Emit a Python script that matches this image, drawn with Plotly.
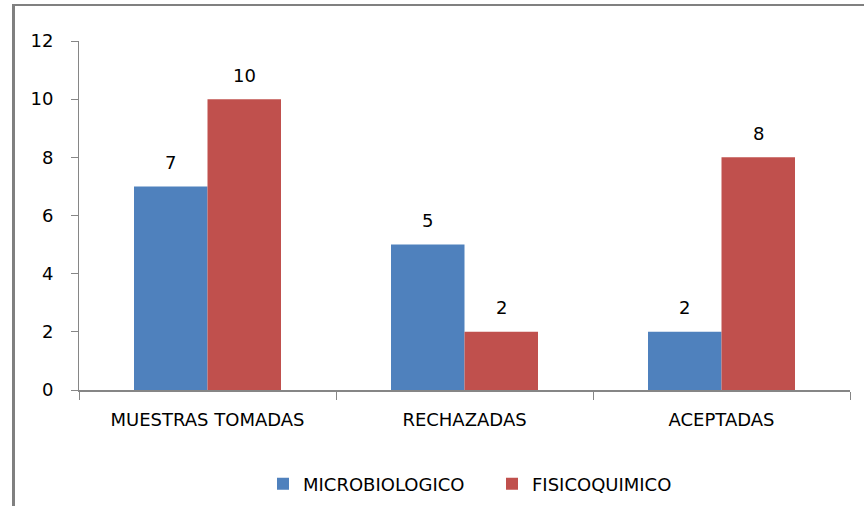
import plotly.graph_objects as go

categories = ["MUESTRAS TOMADAS", "RECHAZADAS", "ACEPTADAS"]
microbiologico = [7, 5, 2]
fisicoquimico = [10, 2, 8]
y_ticks = [0, 2, 4, 6, 8, 10, 12]

BLUE = "#4F81BD"
RED = "#C0504D"
AXIS = "#868686"
FONT = "DejaVu Sans"
FS = 18

fig = go.Figure()
fig.add_trace(go.Bar(name="MICROBIOLOGICO", x=categories, y=microbiologico,
                     marker=dict(color=BLUE, line=dict(width=0))))
fig.add_trace(go.Bar(name="FISICOQUIMICO", x=categories, y=fisicoquimico,
                     marker=dict(color=RED, line=dict(width=0))))

# value labels above each bar
L, R = 79, 850
cat_w = (R - L) / len(categories)
bargap = 0.428
bar_w = cat_w * (1 - bargap) / 2
for series, sign in ((microbiologico, -1), (fisicoquimico, 1)):
    for c, v in zip(categories, series):
        fig.add_annotation(x=c, y=v, text=str(v), showarrow=False,
                           xshift=sign * bar_w / 2, yshift=24,
                           font=dict(family=FONT, size=FS, color="#000000"))

W, H = 864, 506
T, B = 41, 390


def px_x(p):
    return (p - L) / (R - L)


def px_y(p):
    return (B - p) / (B - T)


# outer chart frame (left and top edges)
fig.add_shape(type="line", xref="paper", yref="paper",
              x0=px_x(13.5), x1=px_x(13.5), y0=px_y(5), y1=px_y(510),
              line=dict(color="#808080", width=3))
fig.add_shape(type="line", xref="paper", yref="paper",
              x0=px_x(12), x1=px_x(870), y0=px_y(5), y1=px_y(5),
              line=dict(color="#808080", width=2))

fig.update_layout(
    width=W, height=H,
    margin=dict(l=L, r=W - R, t=T, b=H - B, autoexpand=False),
    paper_bgcolor="white", plot_bgcolor="white",
    barmode="group", bargap=bargap, bargroupgap=0,
    font=dict(family=FONT, size=FS, color="#000000"),
    showlegend=True,
    legend=dict(orientation="h", x=px_x(263), xanchor="left", y=px_y(484),
                yanchor="middle", font=dict(family=FONT, size=FS),
                itemwidth=30, entrywidth=184, traceorder="normal"),
    xaxis=dict(showline=True, linecolor=AXIS, linewidth=2,
               ticks="outside", ticklen=8, tickcolor=AXIS, tickwidth=1,
               tickson="boundaries", showgrid=False, ticklabelstandoff=12,
               tickfont=dict(family=FONT, size=FS)),
    yaxis=dict(range=[0, 12], tickvals=y_ticks, showline=True, linecolor=AXIS,
               linewidth=1, ticks="outside", ticklen=7, tickcolor=AXIS,
               showgrid=False, zeroline=False, ticklabelstandoff=14,
               tickfont=dict(family=FONT, size=FS)),
)

fig.write_html("out.html")
